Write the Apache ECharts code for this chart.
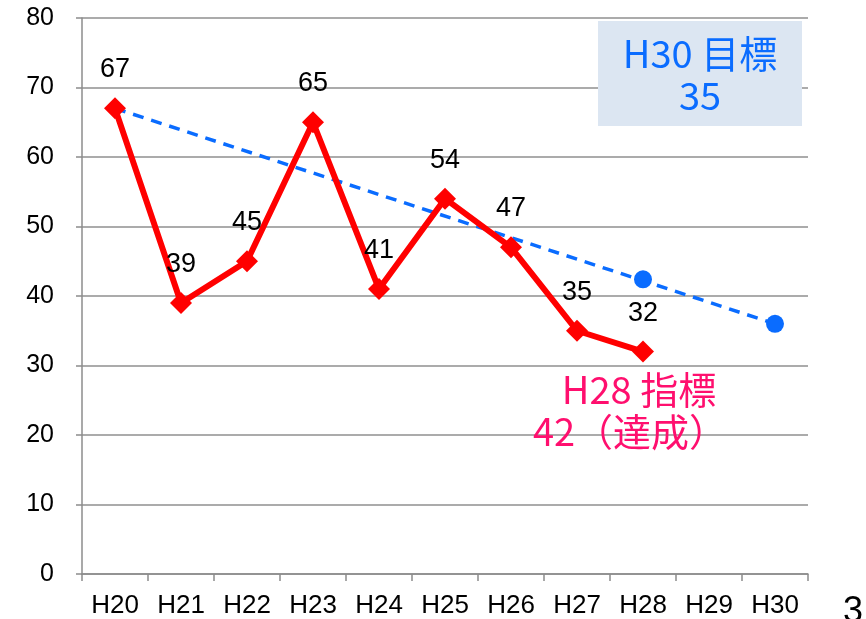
<!DOCTYPE html>
<html>
<head>
<meta charset="utf-8">
<script src="https://cdn.jsdelivr.net/npm/echarts@6/dist/echarts.min.js"></script>
<style>
  html, body { margin: 0; padding: 0; background: #fff; }
  #chart { width: 866px; height: 619px; }
</style>
</head>
<body>
<div id="chart"></div>
<script>
// 年度
const years = ['H20', 'H21', 'H22', 'H23', 'H24', 'H25', 'H26', 'H27', 'H28', 'H29', 'H30']
// 実績
const actual = [67, 39, 45, 65, 41, 54, 47, 35, 32, null, null]
// 目標ライン（H20 → H30）
const trend = [67, null, null, null, null, null, null, null, null, null, 36]
// 指標・目標の点
const targets = [null, null, null, null, null, null, null, null, 42.4, null, 36]
const yTicks = [0, 10, 20, 30, 40, 50, 60, 70, 80]

const chart = echarts.init(document.getElementById('chart'))

const noteFont = '38px "Noto Sans CJK JP"'

const option = {
  animation: false,
  textStyle: { fontFamily: 'Liberation Sans, Arial, sans-serif' },
  grid: { left: 82, right: 58, top: 18, bottom: 44 },
  xAxis: {
    type: 'category',
    data: years,
    boundaryGap: true,
    axisLine: { lineStyle: { color: '#8c8c8c', width: 1.5 } },
    axisTick: { show: true, length: 7, lineStyle: { color: '#8c8c8c', width: 1.5 } },
    axisLabel: { color: '#000', fontSize: 26, margin: 19 }
  },
  yAxis: {
    type: 'value',
    min: yTicks[0],
    max: yTicks[yTicks.length - 1],
    interval: 10,
    axisLine: { show: true, lineStyle: { color: '#8c8c8c', width: 1.5 } },
    axisTick: { show: true, length: 6, lineStyle: { color: '#8c8c8c', width: 1.5 } },
    axisLabel: { color: '#000', fontSize: 25, margin: 28 },
    splitLine: { lineStyle: { color: '#8f8f8f', width: 1.5 } }
  },
  series: [
    {
      name: '目標',
      type: 'line',
      data: trend,
      connectNulls: true,
      symbol: 'none',
      z: 1,
      lineStyle: { color: '#0a6cff', width: 3.5, type: [11, 8] }
    },
    {
      name: '目標点',
      type: 'scatter',
      data: targets,
      symbol: 'circle',
      symbolSize: 18,
      z: 3,
      itemStyle: { color: '#0a6cff', opacity: 1 }
    },
    {
      name: '実績',
      type: 'line',
      data: actual,
      symbol: 'diamond',
      symbolSize: 22,
      z: 2,
      lineStyle: { color: '#ff0000', width: 6 },
      itemStyle: { color: '#ff0000' },
      label: {
        show: true,
        position: 'top',
        distance: 14,
        color: '#000',
        fontSize: 27
      }
    }
  ],
  graphic: [
    {
      type: 'rect',
      left: 598,
      top: 21,
      shape: { width: 204, height: 105 },
      style: { fill: '#dce6f2' },
      z: 10
    },
    {
      type: 'text',
      x: 700,
      y: 54,
      style: { text: 'H30 目標', fill: '#0a6cff', font: noteFont, textAlign: 'center', textVerticalAlign: 'middle' },
      z: 11
    },
    {
      type: 'text',
      x: 700,
      y: 96,
      style: { text: '35', fill: '#0a6cff', font: noteFont, textAlign: 'center', textVerticalAlign: 'middle' },
      z: 11
    },
    {
      type: 'text',
      x: 639,
      y: 390,
      style: { text: 'H28 指標', fill: '#ff0f6e', font: noteFont, textAlign: 'center', textVerticalAlign: 'middle' },
      z: 11
    },
    {
      type: 'text',
      x: 630,
      y: 432,
      style: { text: '42（達成）', fill: '#ff0f6e', font: noteFont, textAlign: 'center', textVerticalAlign: 'middle' },
      z: 11
    },
    {
      type: 'text',
      x: 843,
      y: 612,
      style: { text: '3', fill: '#000', font: '36px "Liberation Sans"', textAlign: 'left', textVerticalAlign: 'middle' },
      z: 11
    }
  ]
}

chart.setOption(option)
</script>
</body>
</html>
